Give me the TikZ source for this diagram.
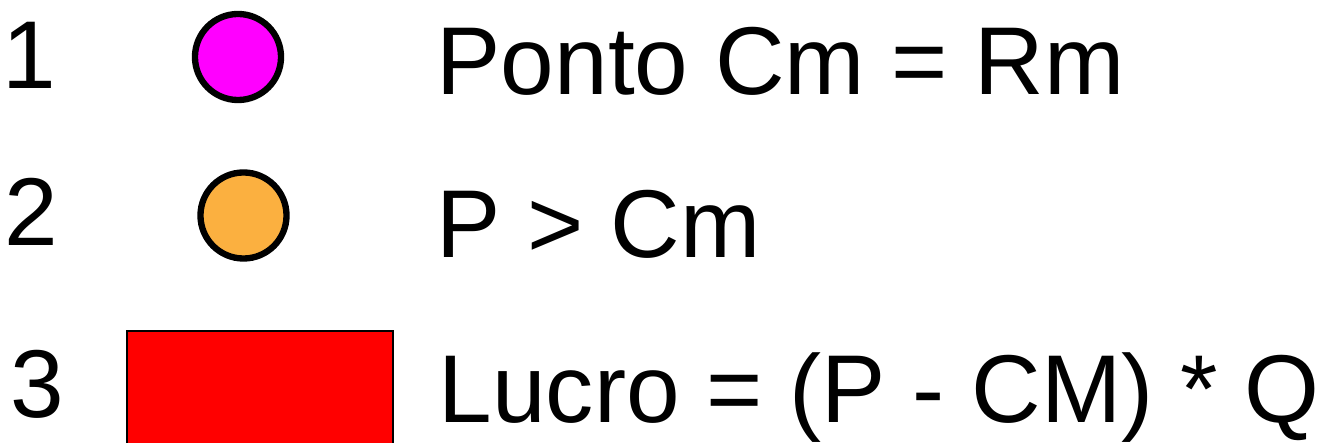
\documentclass[tikz,border=0pt]{standalone}
\usepackage{fontspec}
\setmainfont{Liberation Sans}
\usetikzlibrary{positioning}
\definecolor{dotmag}{HTML}{FF00FF}
\definecolor{dotorange}{HTML}{FBB040}
\definecolor{boxred}{HTML}{FF0000}

\begin{document}
\begin{tikzpicture}[x=0.01cm,y=-0.01cm,font=\fontsize{27.4}{32}\selectfont]
\tikzstyle{num}=[anchor=base west,inner sep=0pt]
\tikzstyle{txt}=[anchor=base west,inner sep=0pt]
\tikzstyle{dot}=[circle,draw=black,line width=1.8pt,minimum size=0.86cm,inner sep=0pt]
\clip (0,0) rectangle (1329,443);
\node[num] (n1) at (2,89) {1};
\node[num] (n2) at (4,246) {2};
\node[num] (n3) at (10,418) {3};
\node[dot,fill=dotmag] (c1) at (238,57) {};
\node[dot,fill=dotorange] (c2) at (243.5,215.5) {};
\node[draw=black,line width=0.6pt,fill=boxred,minimum width=2.66cm,minimum height=1.6cm,anchor=north west,inner sep=0pt] (box) at (126,330) {};
\node[txt] (t1) at (436,95) {Ponto Cm = Rm};
\node[txt] (t2) at (436,258) {P > Cm};
\node[txt] (t3) at (438,423) {Lucro = (P - CM) * Q};
\end{tikzpicture}
\end{document}
